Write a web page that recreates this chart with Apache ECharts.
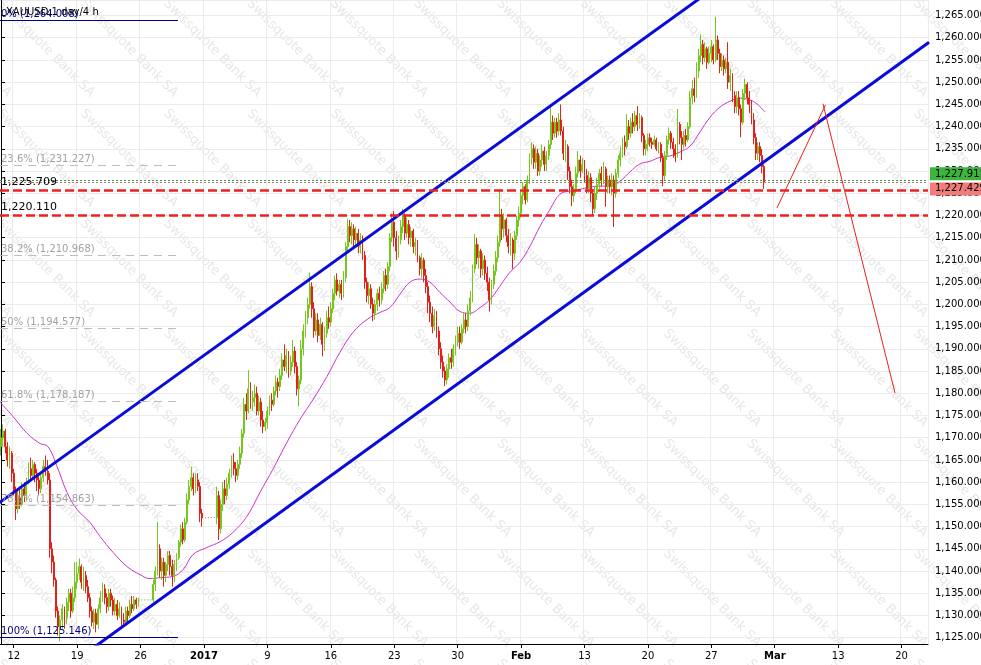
<!DOCTYPE html>
<html><head><meta charset="utf-8">
<script src="https://cdn.jsdelivr.net/npm/echarts@6.0.0/dist/echarts.min.js"></script>
<style>html,body{margin:0;padding:0;background:#fff}#c{width:981px;height:665px}</style>
</head><body><div id="c"></div>
<script>
// ---- axis / categories ----
const slotCount = 439;            // 4-hour slots from Fri 9 Dec 2016 to ~22 Mar 2017
const firstWeekSlot = 6;          // Mon 12 Dec
const slotsPerWeek = 30;
const weekLabels = ["12","19","26","2017","9","16","23","30","Feb","13","20","27","Mar","13","20"];
const boldLabels = ["2017","Feb","Mar"];
const yMin = 1123.58, yMax = 1268.49;

// ---- candles (4h), null = holiday ----
const firstOpen = 1168;
const closes = [
1170,1171.5,1168,1165,1166.5,1162,
1158,1154,1156.5,1155,1158.5,1157,
1160,1163,1161.5,1164,1162,1160.5,
1158.5,1161,1163.5,1162.5,1160.5,1145,
1142,1138,1131,1127.5,1129,1131.5,
1129.5,1133,1135,1131,1134,1137.5,
1139.5,1141,1137.5,1139,1136.5,1134,
1131,1128.5,1130.5,1128,1131.5,1134,
1136,1134,1132,1135,1133.5,1131,
1132.5,1130,1131.5,1129,1128.5,1131,
1130,1132.5,1131.5,1133.5,1132.5,1133.5,
null,null,null,null,null,null,
1137,1140,1145,1140,1142,1139,
1141.5,1143.5,1141,1139,1141.5,1143,
1146.5,1149.5,1147,1151,1156,1159,
1161,1158.5,1160.5,1159,1153,1152,
null,null,null,null,null,null,
1157,1149.5,1155,1158.5,1157,1159.5,
1162,1164.5,1163,1161.5,1164,1166.5,
1171,1177.5,1176,1181,1178,1179,
1180,1176,1178,1174,1172.5,1173.5,
1176,1178.5,1177.5,1180.5,1182.5,1181.5,
1184,1187.5,1186,1188.5,1185,1187,
1189.5,1186,1181,1183,1190,1194,
1197,1200,1204,1199,1194,1196.5,
1193,1195.5,1191,1193.5,1197,1196,
1199,1202.5,1205.5,1203,1204.5,1202.5,
1206,1213,1217.5,1215.5,1217,1214.5,
1216,1213,1214.5,1211,1205,1202,
1203.5,1200,1198,1200,1202.5,1201,
1203.5,1206.5,1204.5,1208.5,1215,1218.5,
1215,1212,1214.5,1217.5,1220,1216,
1218,1215,1216.5,1213,1214,1210.5,
1208,1210,1206.5,1204,1200.5,1198,
1195,1197.5,1194,1190,1187,1185,
1183,1185.5,1188,1187,1190,1191.5,
1193.5,1191.5,1194.5,1196.5,1195,1198.5,
1201.5,1208,1213.5,1210.5,1212,1208,
1210,1207,1205,1201,1204.5,1207.5,
1210.5,1214,1220,1217,1219,1215.5,
1213,1214.5,1211.5,1215.5,1219,1220.5,
1224.5,1226.5,1223.5,1228,1233,1235,
1232,1234,1230,1232.5,1234.5,1231.5,
1233.5,1236,1241,1238.5,1241,1239,
1241.5,1239,1234,1235.5,1230,1226.5,
1224.5,1226,1229.5,1232.5,1230,1231.5,
1229,1226,1228.5,1225,1221.5,1225,
1227,1229.5,1228,1230.5,1226.5,1228,
1226.5,1228,1225,1229.5,1232.5,1234,
1236.5,1235.5,1240,1238.5,1241,1240,
1242.5,1240.5,1242,1238,1235,1236,
1237.5,1236.5,1236,1237,1235,1236,
1233,1229,1233.5,1237,1238.5,1236.5,
1235,1233.5,1240.5,1237.5,1236,1238,
1237,1240,1246.5,1248.5,1247,1252.5,
1256,1258.5,1255.5,1257.5,1254.5,1256.5,
1258,1255,1259.5,1256.5,1253.5,1255,
1253,1254.5,1250,1251.5,1247,1244.5,
1246.5,1244,1241,1247.5,1249.5,1246.5,
1245,1241.5,1237.5,1234,1235.5,1233.5,
1231,1227.4];
const highs = [
1172,1173,1172,1169,1168,1167,
1163,1159,1158,1159,1160,1160,
1161,1164.5,1165.5,1165,1164.5,1163,
1162,1162,1165,1166,1165,1162,
1146.5,1143.5,1138.5,1132,1130,1132.5,
1132,1134,1136,1136,1136.5,1142,
1142,1142.8,1141.5,1141,1140,1138,
1135,1132,1131.5,1131.5,1132.5,1135.5,
1137.4,1137,1135,1136,1136,1134.5,
1134,1133.5,1133,1132,1130.5,1132,
1132,1133.5,1134.4,1134.4,1134,1134,
null,null,null,null,null,null,
1138,1141,1151,1146,1143,1143,
1142,1144.5,1144.5,1142.5,1142.5,1144,
1147,1150.5,1151,1152,1157.5,1160.5,
1163.5,1162,1162,1162,1160,1154,
null,null,null,null,null,null,
1159,1158,1156,1160,1160.5,1161,
1163,1166,1166.5,1164.5,1165,1168,
1172,1179,1180,1185.2,1182.5,1180.5,
1182,1181.5,1179.5,1179,1176,1174.5,
1177,1179.5,1180,1181.5,1184,1183.5,
1185.5,1189,1191,1190,1189.5,1188.5,
1192,1190.5,1187,1184,1192,1195.5,
1198.5,1201.5,1207.2,1205,1200.5,1198,
1198,1197,1196,1195,1198.5,1199.5,
1200.5,1203.5,1206.5,1207,1205.5,1205.5,
1207.5,1214,1219.2,1219,1218.5,1218,
1217.5,1217,1216,1215.5,1212,1206,
1205,1204.5,1201.5,1201,1203.5,1204,
1205,1207.5,1208,1209.5,1216,1220.5,
1221,1216.5,1215.5,1219,1221.5,1220.5,
1219.5,1219,1217.5,1217,1215,1214.5,
1211,1211.5,1210.5,1208,1205,1202,
1199.5,1199,1198.5,1195,1191.5,1188.5,
1186,1186.5,1189,1190,1191,1193,
1195,1195,1195.5,1198,1198,1200,
1203,1209,1215.8,1215,1213.5,1212.5,
1211.5,1211,1208.5,1206,1205.5,1209,
1212,1215.5,1225.9,1221.5,1220.5,1219.5,
1217,1216,1215,1216.5,1220,1222,
1225.5,1227.5,1227,1229,1234,1236.5,
1236,1235.5,1235,1233.5,1236,1235.5,
1234.5,1237,1244.6,1242.5,1242,1242,
1243,1245,1240,1237,1236,1231,
1228,1227,1231,1234.5,1233.5,1233,
1232.5,1230.5,1230,1229.5,1226,1226.5,
1228.5,1230.5,1231,1232,1231,1229,
1229,1229.5,1229,1230.5,1233.5,1235.5,
1237.5,1238,1242.8,1241.5,1242,1243,
1243.5,1244.6,1243,1242.5,1238.5,1237,
1238.5,1238.5,1237.5,1238,1237.5,1236.5,
1236.5,1234,1234.5,1238,1239.8,1239,
1237.5,1236,1244,1241,1239,1239,
1239.5,1241,1248,1250.5,1251,1254.5,
1257.5,1260.8,1259.5,1259,1258,1258,
1259.5,1258.5,1264.7,1260.5,1257.5,1256.5,
1256,1255.5,1259,1253,1252,1248,
1248,1248,1245,1248.5,1250.8,1250,
1248,1246,1243,1238.5,1236.5,1236.5,
1235,1231.5];
const lows = [
1166,1168,1166.5,1163.5,1163,1160,
1157,1151.5,1153,1154,1154.5,1155.5,
1156,1159.5,1160.5,1160.5,1160,1158,
1157,1157.5,1160,1161.5,1159.5,1143,
1139.5,1136.5,1129.5,1125.5,1124.2,1127,
1127,1128,1131,1129.5,1130.5,1133,
1136,1138,1136,1135.5,1135,1133,
1129.5,1127.5,1127,1126.2,1127,1130.5,
1133,1132.5,1130.5,1131,1132,1130,
1130,1129,1129.5,1127.6,1127.6,1128,
1128.5,1129.5,1130.5,1131,1131.5,1132,
null,null,null,null,null,null,
1133,1135.5,1139,1138.5,1138,1136.5,
1137.5,1140,1139,1136.5,1137.5,1140,
1142.5,1145.5,1146,1146.5,1150.5,1155,
1158,1157,1157.5,1158,1151,1150,
null,null,null,null,null,null,
1150.5,1147,1148.5,1153.5,1155,1156,
1158.5,1161,1161.5,1160,1160.5,1163,
1165.5,1170,1174,1175.5,1176.5,1176,
1177,1175,1175,1172.5,1171,1171.5,
1172,1175,1176,1177,1179.5,1179,
1180.5,1183,1185,1184.5,1183.5,1184,
1186,1184.5,1179.5,1177,1182,1188.5,
1192.5,1195.5,1199,1197,1192.5,1193,
1191.5,1192,1188.3,1189.5,1192.5,1194.5,
1195,1198,1201,1202,1201.5,1201,
1201.5,1205,1212,1214,1213.5,1213,
1213,1211.5,1211.5,1210,1203.5,1200.5,
1200,1199,1196.2,1196.5,1198.5,1199.5,
1200,1202.5,1203,1203.5,1207.5,1214,
1213,1210,1210.5,1213.5,1216,1214.5,
1215,1213.5,1213,1211.5,1211,1209.5,
1206.5,1206,1205,1202.5,1198,1196,
1193.5,1194,1192.5,1188.5,1185.5,1183.5,
1181.6,1182,1183.5,1185.5,1186,1188.5,
1190.5,1190,1191,1193.5,1193.5,1194,
1197.5,1200.5,1207,1209,1208,1206,
1206.5,1205.5,1203,1198.4,1200,1203.5,
1206.5,1209.5,1213,1214.5,1215,1214,
1211.5,1211,1208,1210,1214.5,1217.5,
1219.5,1222.5,1222.5,1223,1227,1231.5,
1230.5,1230.5,1228.9,1229,1231,1230,
1230,1232.5,1235,1237,1237.5,1237.5,
1238,1238,1232.5,1232,1228,1225,
1222.1,1223,1225,1228.5,1228.5,1229.5,
1227.5,1225,1225,1223,1220,1220.5,
1223.5,1226,1226.5,1227,1222,1225,
1225,1224.5,1217.4,1224,1228.5,1231,
1233,1233.5,1235,1237,1237.5,1238.5,
1239,1239,1239.5,1236.5,1233.5,1233.5,
1234.5,1235.5,1235,1235.5,1234.5,1234,
1232,1226.6,1228,1232.5,1236,1235,
1233,1232,1233,1236,1232.5,1235,
1235.5,1236.5,1239.5,1245,1245.5,1246.5,
1251,1254.5,1254,1254.5,1253,1254,
1254.5,1254,1254.5,1255,1252,1252.5,
1251.5,1252,1248.5,1248,1245.5,1243,
1243,1242.5,1237.6,1240.5,1246,1245,
1243,1240.5,1236,1232.5,1232.5,1232,
1229.5,1226];

// ---- moving average ----
const maSlots = [-0.5,5.6,12.3,18.4,22.2,26.5,31.2,35.9,42.1,46.8,53.0,59.6,65.7,70.5,75.2,81.3,86.1,90.8,97.4,103.6,109.7,116.3,122.5,128.6,135.3,141.4,147.6,154.2,160.3,166.5,173.1,179.3,184.0,188.7,193.4,198.2,202.9,207.6,212.4,217.1,221.8,226.6,231.3,236.0,240.7,245.5,250.2,255.0,259.7,264.4,269.1,273.9,278.6,283.3,288.1,292.8,297.5,302.2,307.0,311.7,316.4,321.2,325.9,330.6,335.4,340.1,344.8,349.5,354.3,357.6,361.4];
const maValues = [1178.0,1174.8,1171.0,1168.7,1168.0,1163.5,1157.7,1153.9,1150.9,1147.8,1144.2,1141.0,1139.2,1138.3,1138.5,1138.8,1140.3,1143.7,1145.3,1146.6,1148.7,1152.3,1157.7,1162.9,1169.0,1174.1,1178.6,1183.8,1189.2,1193.7,1196.6,1198.2,1199.3,1202.3,1205.0,1205.7,1205.0,1202.7,1200.5,1198.4,1198.0,1199.3,1201.1,1204.1,1207.2,1209.5,1213.1,1217.6,1221.4,1224.8,1225.5,1225.9,1226.4,1226.6,1226.6,1227.7,1229.8,1231.6,1232.2,1233.1,1233.4,1234.3,1235.6,1238.8,1242.1,1244.4,1245.7,1246.4,1246.0,1245.1,1243.3];

// ---- drawn objects (slot, price) ----
const upperChannel = [[-20, 1148.8], [340, 1272.1]];
const lowerChannel = [[40, 1121.46], [439, 1259.0]];
const forecastUp = [[367.05, 1221.7], [390.0, 1244.9]];
const forecastDown = [[388.8, 1245.15], [422.9, 1180.05]];
const fibNames = ["0%","23.6%","38.2%","50%","61.8%","78.6%","100%"];
const fibValues = [1264.008,1231.227,1210.968,1194.577,1178.187,1154.863,1125.146];
const fibSpan = [-0.5, 83.7];
const levels = [1225.709, 1220.110];
const bidPrice = 1227.911, askPrice = 1227.429;
const holidayGaps = [[65, 72], [95, 102]];

function fmt(v){
  const s = v.toFixed(3).split('.');
  return s[0].replace(/\B(?=(\d{3})+(?!\d))/g, ',') + '.' + s[1];
}

const categories = Array.from({length: slotCount}, (_, i) => String(i));
const isWeek = (i) => i >= firstWeekSlot && (i - firstWeekSlot) % slotsPerWeek === 0;

const candleData = [];
let prev = firstOpen;
for (let i = 0; i < closes.length; i++) {
  if (closes[i] == null) { candleData.push(['-','-','-','-']); continue; }
  candleData.push([prev, closes[i], lows[i], highs[i]]);
  prev = closes[i];
}

const FONT = 'DejaVu Sans';
const fibMarks = fibValues.map((v, i) => {
  const edge = (i === 0 || i === fibValues.length - 1);
  return [{
    coord: [fibSpan[0], v],
    lineStyle: edge ? {color: '#000080', width: 1, type: 'solid'} : {color: '#BDBDBD', width: 1, type: [8, 6]},
    label: {show: true, position: 'insideStartTop', distance: [1, 1],
      formatter: fibNames[i] + ' (' + fmt(v) + ')',
      color: edge ? '#000080' : '#A2A2A2', fontSize: 10, fontFamily: FONT}
  }, {coord: [fibSpan[1], v]}];
});

// watermark
const wm = [];
for (let r = -1; r <= 6; r++) {
  for (let c = -1; c <= 12; c++) {
    wm.push({type: 'text', x: 3.7 + 83.3 * c, y: -3 + 110 * r, rotation: -Math.PI / 4, silent: true, z: 0,
      style: {text: 'Swissquote Bank SA', fill: '#E7E7E7', font: '13px "DejaVu Sans"'}});
  }
}

const gapSeries = holidayGaps.map(g => ({
  type: 'line', xAxisIndex: 1, yAxisIndex: 0, silent: true, symbol: 'none', z: 2,
  lineStyle: {color: '#5AAA2A', width: 1, type: [1, 2]},
  data: [[g[0], closes[g[0]]], [g[1], closes[g[0]]]]
}));

const chart = echarts.init(document.getElementById('c'), null, {renderer: 'canvas'});
chart.setOption({
  animation: false,
  backgroundColor: '#ffffff',
  title: {text: 'XAUUSD,1 day/4 h', left: 1, top: 2,
    textStyle: {fontSize: 10, fontWeight: 'normal', color: '#000', fontFamily: FONT}},
  graphic: {elements: wm},
  grid: {left: 0, right: 53, top: 0, bottom: 21, containLabel: false, outerBoundsMode: 'none'},
  xAxis: [{
    type: 'category', data: categories, boundaryGap: true,
    axisLine: {show: true, lineStyle: {color: '#000', width: 1}},
    axisTick: {show: true, interval: (i) => isWeek(i), alignWithLabel: true, length: 4, lineStyle: {color: '#000'}},
    splitLine: {show: true, interval: (i) => isWeek(i), lineStyle: {color: '#EBEBEB', width: 1}},
    axisLabel: {interval: (i) => isWeek(i), margin: 7, color: '#000', fontSize: 10, fontFamily: FONT,
      formatter: (v, idx) => {
        const i = Number(v);
        const t = weekLabels[(i - firstWeekSlot) / slotsPerWeek];
        if (t === undefined) return '';
        return boldLabels.indexOf(t) >= 0 ? '{b|' + t + '}' : t;
      },
      rich: {b: {fontWeight: 'bold', fontSize: 10, fontFamily: FONT, color: '#000'}}}
  }, {
    type: 'value', min: -0.5, max: slotCount - 0.5, show: false
  }],
  yAxis: [{
    type: 'value', position: 'right', min: yMin, max: yMax,
    splitNumber: 29, minInterval: 5, maxInterval: 5,
    axisLine: {show: true, lineStyle: {color: '#000', width: 1}},
    axisTick: {show: true, length: 4, inside: false, lineStyle: {color: '#000'}},
    splitLine: {show: true, lineStyle: {color: '#EBEBEB', width: 1}},
    axisLabel: {margin: 7, color: '#000', fontSize: 10, fontFamily: FONT,
      showMinLabel: false, showMaxLabel: false, formatter: (v) => fmt(v)}
  }],
  series: [
    {
      type: 'line', name: 'fib', xAxisIndex: 1, data: [], z: 1, silent: true,
      markLine: {silent: true, symbol: ['none', 'none'], animation: false, data: fibMarks}
    },
    {
      type: 'line', name: 'MA', xAxisIndex: 1, z: 2, silent: true, symbol: 'none', smooth: 0.4,
      lineStyle: {color: '#CC33CC', width: 1},
      data: maSlots.map((s, i) => [s, maValues[i]])
    },
    {
      type: 'candlestick', name: 'XAUUSD', xAxisIndex: 0, z: 3, barWidth: 1.4,
      data: candleData,
      itemStyle: {color: '#74C81C', color0: '#E4201A', borderColor: '#74C81C', borderColor0: '#E4201A', borderWidth: 1},
      markLine: {
        silent: true, symbol: ['none', 'none'], animation: false,
        data: [
          {yAxis: levels[0], lineStyle: {color: '#EE2020', width: 2.5, type: [9, 4]},
            label: {show: true, position: 'insideStartTop', distance: [1, 2], formatter: fmt(levels[0]), color: '#000', fontSize: 11, fontFamily: FONT}},
          {yAxis: levels[1], lineStyle: {color: '#EE2020', width: 2.5, type: [9, 4]},
            label: {show: true, position: 'insideStartTop', distance: [1, 2], formatter: fmt(levels[1]), color: '#000', fontSize: 11, fontFamily: FONT}},
          {yAxis: bidPrice, lineStyle: {color: '#3A9A3A', width: 1, type: [2, 2]},
            label: {show: true, position: 'end', distance: 2, formatter: fmt(bidPrice), verticalAlign: 'bottom',
              backgroundColor: '#3DB53D', color: '#000', padding: [2, 3, 1, 5], fontSize: 10, fontFamily: FONT}},
          {yAxis: askPrice, lineStyle: {color: '#C86A6A', width: 1, type: [2, 2]},
            label: {show: true, position: 'end', distance: 2, formatter: fmt(askPrice), verticalAlign: 'top',
              backgroundColor: '#F27B7B', color: '#000', padding: [1, 3, 2, 5], fontSize: 10, fontFamily: FONT}}
        ]
      }
    },
    ...gapSeries,
    {
      type: 'line', name: 'upper', xAxisIndex: 1, z: 4, silent: true, symbol: 'none',
      lineStyle: {color: '#0A0ADC', width: 3}, data: upperChannel
    },
    {
      type: 'line', name: 'lower', xAxisIndex: 1, z: 4, silent: true, symbol: 'none',
      lineStyle: {color: '#0A0ADC', width: 3}, data: lowerChannel
    },
    {
      type: 'line', name: 'fcUp', xAxisIndex: 1, z: 4, silent: true, symbol: 'none',
      lineStyle: {color: '#E8201A', width: 1}, data: forecastUp
    },
    {
      type: 'line', name: 'fcDown', xAxisIndex: 1, z: 4, silent: true, symbol: 'none',
      lineStyle: {color: '#E8201A', width: 1}, data: forecastDown
    }
  ]
});
</script>
</body></html>
